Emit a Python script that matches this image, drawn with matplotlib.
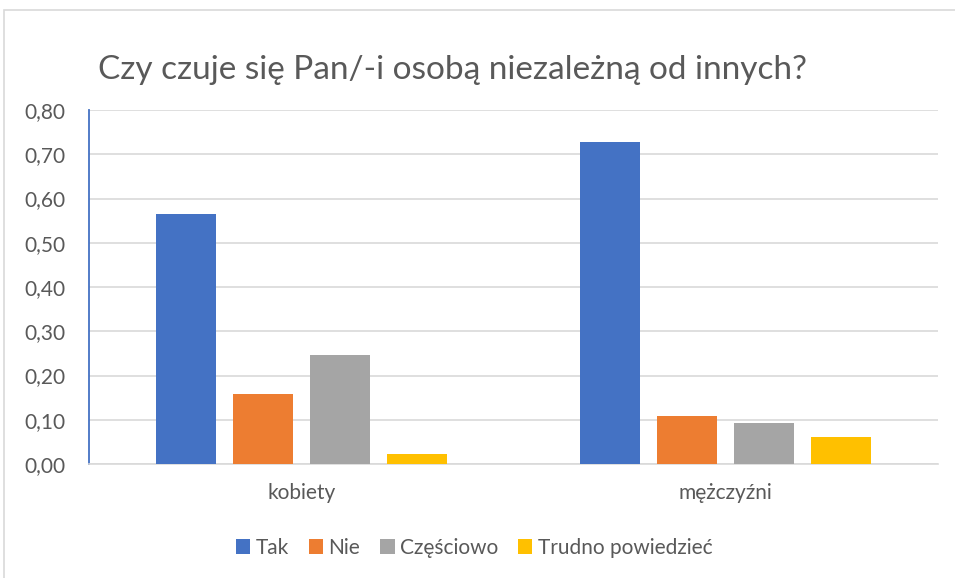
import matplotlib.pyplot as plt
import matplotlib.patches as patches
import numpy as np

# Data
categories = ['kobiety', 'mężczyźni']
series_names = ['Tak', 'Nie', 'Częściowo', 'Trudno powiedzieć']
tak = [0.566, 0.728]
nie = [0.158, 0.109]
czesciowo = [0.246, 0.093]
trudno = [0.022, 0.062]
yticks = [0.0, 0.1, 0.2, 0.3, 0.4, 0.5, 0.6, 0.7, 0.8]

colors = ['#4472C4', '#ED7D31', '#A5A5A5', '#FFC000']
text_color = '#595959'

plt.rcParams['font.family'] = ['Lato', 'DejaVu Sans']

W, H = 955, 578
fig = plt.figure(figsize=(W / 100, H / 100), dpi=100)

# chart area border (light gray, runs off right/bottom edge)
fig.patches.append(patches.Rectangle((4 / W, -0.05), 1.1, (H - 10) / H + 0.05,
                                     transform=fig.transFigure, fill=False,
                                     edgecolor='#D9D9D9', linewidth=1.2))

ax = fig.add_axes([89 / W, (H - 464) / H, 849 / W, (464 - 110) / H])

x = np.arange(len(categories))
width = 0.1413
step = 0.1814
all_series = [tak, nie, czesciowo, trudno]
for i, (name, vals) in enumerate(zip(series_names, all_series)):
    offset = (i - 1.5) * step
    ax.bar(x + offset, vals, width, color=colors[i], label=name, zorder=3)

ax.set_xlim(-0.5, 1.5)
ax.set_ylim(0, 0.8)
ax.set_yticks(yticks)
ax.set_yticklabels([f'{v:.2f}'.replace('.', ',') for v in yticks])
ax.set_xticks(x)
ax.set_xticklabels(categories)
ax.grid(axis='y', color='#D9D9D9', linewidth=1.2, zorder=0)
ax.set_axisbelow(True)

for s in ['top', 'right']:
    ax.spines[s].set_visible(False)
ax.spines['left'].set_color('#4472C4')
ax.spines['left'].set_linewidth(1.3)
ax.spines['bottom'].set_color('#D9D9D9')
ax.spines['bottom'].set_linewidth(1.2)

ax.tick_params(axis='y', length=0, pad=17, labelsize=15, labelcolor=text_color)
ax.tick_params(axis='x', length=0, pad=14, labelsize=15, labelcolor=text_color)

fig.text(452 / W, 1 - 70 / H, 'Czy czuje się Pan/-i osobą niezależną od innych?',
         ha='center', va='center', fontsize=24, color=text_color)

fig.legend(loc='center', bbox_to_anchor=(474 / W, 1 - 548 / H), ncol=4,
           frameon=False, fontsize=15, labelcolor=text_color,
           handlelength=0.7, handleheight=0.7, handletextpad=0.25,
           columnspacing=0.95)

fig.savefig('out.png', dpi=100)
